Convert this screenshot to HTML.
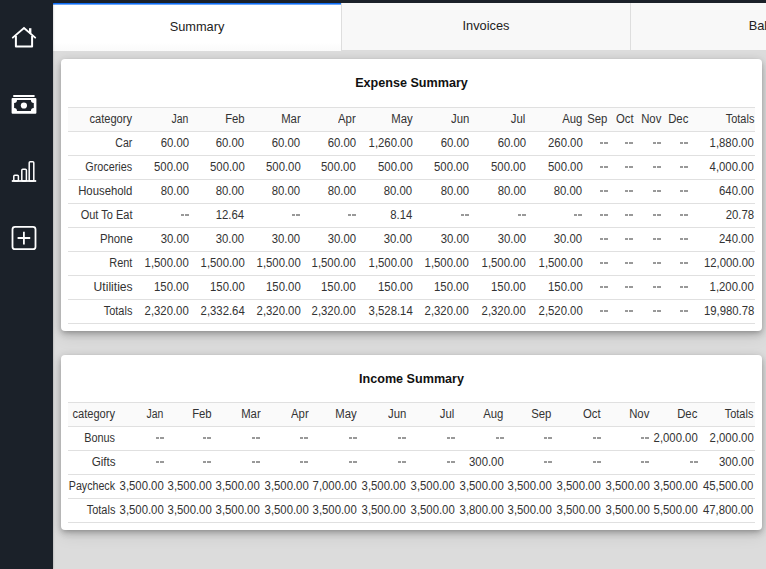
<!DOCTYPE html>
<html><head><meta charset="utf-8"><title>Summary</title><style>
*{box-sizing:border-box}
html,body{margin:0;padding:0}
body{width:766px;height:569px;overflow:hidden;background:#dcdcdc;position:relative;font-family:"Liberation Sans",sans-serif}
#top{position:absolute;left:0;top:0;width:766px;height:3px;background:#1b2129}
#side{position:absolute;left:0;top:0;width:53px;height:569px;background:#1b2129;box-shadow:0 0 2px rgba(0,0,0,.3)}
#side svg{position:absolute;left:0;top:0}
.tab{position:absolute;top:3px;height:47px;width:289px;background:#f8f8f8;border-left:1px solid #dedede;font-size:12.8px;color:#222;text-align:center;line-height:45.5px}
.tab.act{background:linear-gradient(#fff 82%,#fafafa);border-left:none;height:48px;border-top:1px solid #0f6ef6;box-shadow:inset 0 1px 0 #6ea7f7;line-height:45.5px}
.card{position:absolute;left:61px;width:701px;background:#fff;border-radius:4px;box-shadow:0 2px 4px -1px rgba(0,0,0,.17),0 4px 7px 0 rgba(0,0,0,.12),0 1px 10px 0 rgba(0,0,0,.12),0 7px 16px 0 rgba(0,0,0,.07)}
.ttl{position:absolute;left:0;width:100%;text-align:center;font-weight:bold;font-size:12.6px;color:#111}
.t{position:absolute;left:68px;border-collapse:collapse;table-layout:fixed;font-size:12px;color:#333}
.t td{padding:0 1.1px 0 0;text-align:right;height:24px;line-height:23px;border-bottom:1px solid #e0e0e0;white-space:nowrap;overflow:visible}
.t s{text-decoration:none;display:inline-block;margin-left:-30px;transform:scaleX(.945);transform-origin:100% 50%}
.t i.dd{display:inline-block;width:8px;height:2px;vertical-align:3px;background:linear-gradient(90deg,#999 0 3.5px,transparent 3.5px 4.5px,#999 4.5px 8px)}
.t tr.hd td{background:#fafafa;border-top:1px solid #e0e0e0}
</style></head>
<body>
<div id="top"></div>
<div class="tab act" style="left:53px;width:288px">Summary</div>
<div class="tab" style="left:341px">Invoices</div>
<div class="tab" style="left:630px">Balances</div>
<div class="card" style="top:59px;height:272px"><div class="ttl" style="top:16.5px">Expense Summary</div></div>
<div class="card" style="top:355px;height:175px"><div class="ttl" style="top:16.5px">Income Summary</div></div>
<table class="t" style="top:107px;width:687.0px">
<colgroup><col style="width:65.40px"><col style="width:56.30px"><col style="width:55.80px"><col style="width:55.90px"><col style="width:55.60px"><col style="width:56.60px"><col style="width:56.70px"><col style="width:56.60px"><col style="width:56.50px"><col style="width:25.40px"><col style="width:25.60px"><col style="width:27.90px"><col style="width:27.10px"><col style="width:65.60px"></colgroup>
<tr class="hd"><td><s style="transform:scaleX(0.926)">category</s></td><td><s style="transform:scaleX(0.869)">Jan</s></td><td><s>Feb</s></td><td><s>Mar</s></td><td><s>Apr</s></td><td><s>May</s></td><td><s>Jun</s></td><td><s>Jul</s></td><td><s>Aug</s></td><td><s>Sep</s></td><td><s>Oct</s></td><td><s>Nov</s></td><td><s>Dec</s></td><td><s style="transform:scaleX(0.912)">Totals</s></td></tr>
<tr><td><s style="transform:scaleX(0.879)">Car</s></td><td><s>60.00</s></td><td><s>60.00</s></td><td><s>60.00</s></td><td><s>60.00</s></td><td><s>1,260.00</s></td><td><s>60.00</s></td><td><s>60.00</s></td><td><s>260.00</s></td><td><i class="dd"></i></td><td><i class="dd"></i></td><td><i class="dd"></i></td><td><i class="dd"></i></td><td><s>1,880.00</s></td></tr>
<tr><td><s style="transform:scaleX(0.898)">Groceries</s></td><td><s>500.00</s></td><td><s>500.00</s></td><td><s>500.00</s></td><td><s>500.00</s></td><td><s>500.00</s></td><td><s>500.00</s></td><td><s>500.00</s></td><td><s>500.00</s></td><td><i class="dd"></i></td><td><i class="dd"></i></td><td><i class="dd"></i></td><td><i class="dd"></i></td><td><s>4,000.00</s></td></tr>
<tr><td><s style="transform:scaleX(0.945)">Household</s></td><td><s>80.00</s></td><td><s>80.00</s></td><td><s>80.00</s></td><td><s>80.00</s></td><td><s>80.00</s></td><td><s>80.00</s></td><td><s>80.00</s></td><td><s>80.00</s></td><td><i class="dd"></i></td><td><i class="dd"></i></td><td><i class="dd"></i></td><td><i class="dd"></i></td><td><s>640.00</s></td></tr>
<tr><td><s style="transform:scaleX(0.917)">Out To Eat</s></td><td><i class="dd"></i></td><td><s>12.64</s></td><td><i class="dd"></i></td><td><i class="dd"></i></td><td><s>8.14</s></td><td><i class="dd"></i></td><td><i class="dd"></i></td><td><i class="dd"></i></td><td><i class="dd"></i></td><td><i class="dd"></i></td><td><i class="dd"></i></td><td><i class="dd"></i></td><td><s>20.78</s></td></tr>
<tr><td><s style="transform:scaleX(0.945)">Phone</s></td><td><s>30.00</s></td><td><s>30.00</s></td><td><s>30.00</s></td><td><s>30.00</s></td><td><s>30.00</s></td><td><s>30.00</s></td><td><s>30.00</s></td><td><s>30.00</s></td><td><i class="dd"></i></td><td><i class="dd"></i></td><td><i class="dd"></i></td><td><i class="dd"></i></td><td><s>240.00</s></td></tr>
<tr><td><s style="transform:scaleX(0.912)">Rent</s></td><td><s>1,500.00</s></td><td><s>1,500.00</s></td><td><s>1,500.00</s></td><td><s>1,500.00</s></td><td><s>1,500.00</s></td><td><s>1,500.00</s></td><td><s>1,500.00</s></td><td><s>1,500.00</s></td><td><i class="dd"></i></td><td><i class="dd"></i></td><td><i class="dd"></i></td><td><i class="dd"></i></td><td><s>12,000.00</s></td></tr>
<tr><td><s style="transform:scaleX(1.011)">Utilities</s></td><td><s>150.00</s></td><td><s>150.00</s></td><td><s>150.00</s></td><td><s>150.00</s></td><td><s>150.00</s></td><td><s>150.00</s></td><td><s>150.00</s></td><td><s>150.00</s></td><td><i class="dd"></i></td><td><i class="dd"></i></td><td><i class="dd"></i></td><td><i class="dd"></i></td><td><s>1,200.00</s></td></tr>
<tr><td><s style="transform:scaleX(0.912)">Totals</s></td><td><s>2,320.00</s></td><td><s>2,332.64</s></td><td><s>2,320.00</s></td><td><s>2,320.00</s></td><td><s>3,528.14</s></td><td><s>2,320.00</s></td><td><s>2,320.00</s></td><td><s>2,520.00</s></td><td><i class="dd"></i></td><td><i class="dd"></i></td><td><i class="dd"></i></td><td><i class="dd"></i></td><td><s>19,980.78</s></td></tr>
</table>
<table class="t" style="top:402px;width:686.9px">
<colgroup><col style="width:48.40px"><col style="width:48.50px"><col style="width:47.70px"><col style="width:48.70px"><col style="width:48.30px"><col style="width:48.60px"><col style="width:48.80px"><col style="width:48.90px"><col style="width:48.90px"><col style="width:48.20px"><col style="width:48.80px"><col style="width:48.80px"><col style="width:48.40px"><col style="width:55.90px"></colgroup>
<tr class="hd"><td><s style="transform:scaleX(0.926)">category</s></td><td><s style="transform:scaleX(0.869)">Jan</s></td><td><s>Feb</s></td><td><s>Mar</s></td><td><s>Apr</s></td><td><s>May</s></td><td><s>Jun</s></td><td><s>Jul</s></td><td><s>Aug</s></td><td><s>Sep</s></td><td><s>Oct</s></td><td><s>Nov</s></td><td><s>Dec</s></td><td><s style="transform:scaleX(0.912)">Totals</s></td></tr>
<tr><td><s style="transform:scaleX(0.907)">Bonus</s></td><td><i class="dd"></i></td><td><i class="dd"></i></td><td><i class="dd"></i></td><td><i class="dd"></i></td><td><i class="dd"></i></td><td><i class="dd"></i></td><td><i class="dd"></i></td><td><i class="dd"></i></td><td><i class="dd"></i></td><td><i class="dd"></i></td><td><i class="dd"></i></td><td><s>2,000.00</s></td><td><s>2,000.00</s></td></tr>
<tr><td><s style="transform:scaleX(0.973)">Gifts</s></td><td><i class="dd"></i></td><td><i class="dd"></i></td><td><i class="dd"></i></td><td><i class="dd"></i></td><td><i class="dd"></i></td><td><i class="dd"></i></td><td><i class="dd"></i></td><td><s>300.00</s></td><td><i class="dd"></i></td><td><i class="dd"></i></td><td><i class="dd"></i></td><td><i class="dd"></i></td><td><s>300.00</s></td></tr>
<tr><td><s style="transform:scaleX(0.888)">Paycheck</s></td><td><s>3,500.00</s></td><td><s>3,500.00</s></td><td><s>3,500.00</s></td><td><s>3,500.00</s></td><td><s>7,000.00</s></td><td><s>3,500.00</s></td><td><s>3,500.00</s></td><td><s>3,500.00</s></td><td><s>3,500.00</s></td><td><s>3,500.00</s></td><td><s>3,500.00</s></td><td><s>3,500.00</s></td><td><s>45,500.00</s></td></tr>
<tr><td><s style="transform:scaleX(0.912)">Totals</s></td><td><s>3,500.00</s></td><td><s>3,500.00</s></td><td><s>3,500.00</s></td><td><s>3,500.00</s></td><td><s>3,500.00</s></td><td><s>3,500.00</s></td><td><s>3,500.00</s></td><td><s>3,800.00</s></td><td><s>3,500.00</s></td><td><s>3,500.00</s></td><td><s>3,500.00</s></td><td><s>5,500.00</s></td><td><s>47,800.00</s></td></tr>
</table>
<div id="side"><svg width="53" height="569" viewBox="0 0 53 569" fill="none" stroke="#fff">
<path d="M12.8 37.6 L24 28 L35.2 37.6" stroke-width="1.9" stroke-linecap="round" stroke-linejoin="miter"/>
<path d="M15.9 36 V46.5 H32.1 V36" stroke-width="2" stroke-linejoin="round"/>
<rect x="29" y="28.2" width="2.4" height="5" fill="#fff" stroke="none"/>
<rect x="13" y="95" width="21.8" height="2.1" rx="1" fill="#fff" stroke="none"/>
<path fill="#fff" stroke="none" fill-rule="evenodd" d="M12.6 98 h22.8 a1 1 0 0 1 1 1 v13.8 a1 1 0 0 1 -1 1 h-22.8 a1 1 0 0 1 -1 -1 v-13.8 a1 1 0 0 1 1 -1 z M17 100.1 H30.9 A2.9 2.9 0 0 0 33.8 103 V108.1 A2.9 2.9 0 0 0 30.9 111 H17 A2.9 2.9 0 0 0 14.1 108.1 V103 A2.9 2.9 0 0 0 17 100.1 Z"/>
<circle cx="23.9" cy="105.5" r="3.1" fill="#fff" stroke="none"/>
<path d="M11.8 181 H36.2" stroke-width="1.8"/>
<rect x="13.8" y="175.2" width="4.6" height="5.8" rx="1" stroke-width="1.5"/>
<rect x="21.8" y="169.2" width="4.6" height="11.8" rx="1" stroke-width="1.5"/>
<rect x="29.2" y="161.7" width="4.6" height="19.3" rx="1" stroke-width="1.5"/>
<rect x="12.5" y="226.8" width="23" height="22.4" rx="2.5" stroke-width="1.8"/>
<path d="M17.6 238 H30.2 M23.9 231.8 V244.4" stroke-width="1.8"/>
</svg></div>
</body></html>
